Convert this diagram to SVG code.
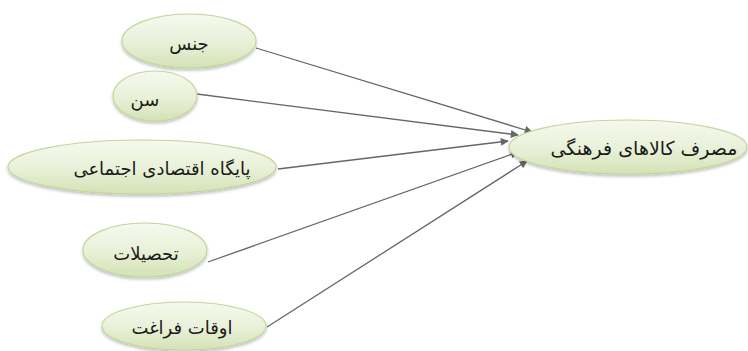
<svg xmlns="http://www.w3.org/2000/svg" width="748" height="351" viewBox="0 0 748 351">
<style>
.node ellipse{fill:url(#g);stroke:#c3d69b;stroke-width:1.2;filter:url(#sh)}
.node text{font-family:"DejaVu Sans","Noto Sans",sans-serif;font-size:18px;fill:#1a1a1a;text-anchor:middle;dominant-baseline:central}
.conn line{stroke:#666666;stroke-width:1.3;marker-end:url(#ah)}
</style>
<defs>
<linearGradient id="g" x1="0" y1="0" x2="0" y2="1">
<stop offset="0" stop-color="#f6f9ee"/>
<stop offset="0.5" stop-color="#eaf1da"/>
<stop offset="1" stop-color="#d4e2b6"/>
</linearGradient>
<filter id="sh" x="-10%" y="-20%" width="120%" height="150%">
<feGaussianBlur in="SourceAlpha" stdDeviation="1.5"/>
<feOffset dy="2" result="b"/>
<feComponentTransfer><feFuncA type="linear" slope="0.25"/></feComponentTransfer>
<feMerge><feMergeNode/><feMergeNode in="SourceGraphic"/></feMerge>
</filter>
<marker id="ah" viewBox="0 0 10 10" refX="9" refY="5" markerWidth="9" markerHeight="8" markerUnits="userSpaceOnUse" orient="auto">
<path d="M0,0 L10,5 L0,10 z" fill="#666666"/>
</marker>
</defs>
<rect width="748" height="351" fill="#ffffff"/>
<g id="connectors" class="conn">
<line x1="256" y1="48" x2="532" y2="132"/>
<line x1="197" y1="94" x2="518" y2="135"/>
<line x1="278" y1="169" x2="508" y2="141"/>
<line x1="208" y1="262" x2="518" y2="152"/>
<line x1="267" y1="327" x2="527" y2="161"/>
</g>
<g id="n-jens" class="node">
<ellipse cx="189" cy="41" rx="67" ry="27"/>
<text x="189" y="43">جنس</text>
</g>
<g id="n-sen" class="node">
<ellipse cx="155" cy="96" rx="42" ry="25"/>
<text x="145" y="99">سن</text>
</g>
<g id="n-paygah" class="node">
<ellipse cx="142" cy="167" rx="134" ry="27"/>
<text x="162" y="168">پایگاه اقتصادی اجتماعی</text>
</g>
<g id="n-tahsilat" class="node">
<ellipse cx="145" cy="250" rx="62" ry="27"/>
<text x="146" y="253">تحصیلات</text>
</g>
<g id="n-oghat" class="node">
<ellipse cx="184" cy="326" rx="82" ry="24"/>
<text x="182" y="327">اوقات فراغت</text>
</g>
<g id="n-masraf" class="node">
<ellipse cx="628" cy="147" rx="119" ry="27"/>
<text x="644" y="148" style="font-size:19px">مصرف کالاهای فرهنگی</text>
</g>
</svg>
